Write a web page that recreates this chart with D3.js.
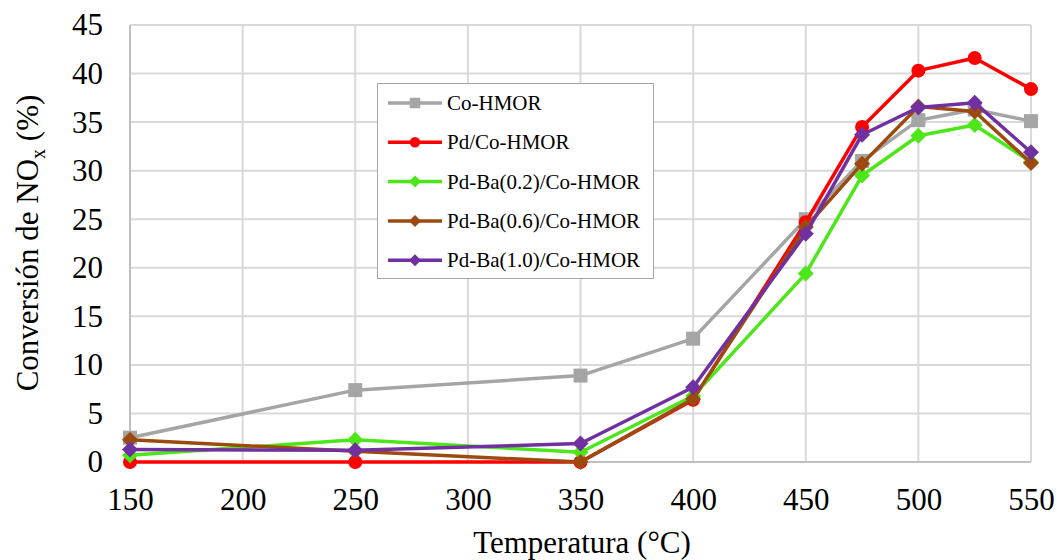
<!DOCTYPE html>
<html><head><meta charset="utf-8">
<script src="https://cdn.jsdelivr.net/npm/d3@7"></script>
</head><body style="margin:0">
<svg id="c" width="1057" height="560" font-family="Liberation Serif"></svg>
<script>
const temps = [150, 250, 350, 400, 450, 475, 500, 525, 550];
const coHMOR   = [2.5, 7.4, 8.9, 12.7, 25.0, 31.0, 35.2, 36.3, 35.1];
const pdCo     = [0.0, 0.0, 0.0, 6.4, 24.7, 34.5, 40.3, 41.6, 38.4];
const pdBa02   = [0.7, 2.3, 1.0, 6.8, 19.4, 29.5, 33.6, 34.7, 30.9];
const pdBa06   = [2.3, 1.1, 0.0, 6.5, 24.2, 30.7, 36.6, 36.1, 30.8];
const pdBa10   = [1.3, 1.2, 1.9, 7.7, 23.5, 33.7, 36.5, 37.0, 31.9];
const seriesNames = ["Co-HMOR", "Pd/Co-HMOR", "Pd-Ba(0.2)/Co-HMOR", "Pd-Ba(0.6)/Co-HMOR", "Pd-Ba(1.0)/Co-HMOR"];
const xTicks = [150, 200, 250, 300, 350, 400, 450, 500, 550];
const yTicks = [0, 5, 10, 15, 20, 25, 30, 35, 40, 45];

const colors = ["#A5A5A5", "#FF0000", "#4DE61A", "#9C4A10", "#7030A0"];
const shapes = ["square", "circle", "diamond", "diamond", "diamond"];
const allValues = [coHMOR, pdCo, pdBa02, pdBa06, pdBa10];

const svg = d3.select("#c");
const x = d3.scaleLinear().domain([150, 550]).range([130, 1031]);
const y = d3.scaleLinear().domain([0, 45]).range([462, 25]);
const FAM = "Liberation Serif";

// gridlines
const g = svg.append("g");
g.selectAll(".hg").data(yTicks.filter(d => d > 0)).enter().append("line")
  .attr("x1", x(150)).attr("x2", x(550)).attr("y1", d => y(d)).attr("y2", d => y(d))
  .attr("stroke", "#D9D9D9").attr("stroke-width", 2);
g.selectAll(".vg").data(xTicks.filter(d => d > 150)).enter().append("line")
  .attr("y1", y(0)).attr("y2", y(45)).attr("x1", d => x(d)).attr("x2", d => x(d))
  .attr("stroke", "#D9D9D9").attr("stroke-width", 2);
// axes
svg.append("line").attr("x1", x(150)).attr("x2", x(550)).attr("y1", y(0)).attr("y2", y(0))
  .attr("stroke", "#BFBFBF").attr("stroke-width", 2);
svg.append("line").attr("x1", x(150)).attr("x2", x(150)).attr("y1", y(0)).attr("y2", y(45))
  .attr("stroke", "#BFBFBF").attr("stroke-width", 2);

// tick labels via d3 axes
const xAxis = svg.append("g").attr("transform", `translate(0,${y(0)})`)
  .call(d3.axisBottom(x).tickValues(xTicks).tickSize(0).tickPadding(26).tickFormat(d3.format("d")));
xAxis.select(".domain").remove();
xAxis.attr("font-family", FAM).attr("font-size", 31);
xAxis.selectAll("text").style("font-family", FAM).attr("font-size", 31).attr("fill", "#000");
const yAxis = svg.append("g").attr("transform", `translate(${x(150)},0)`)
  .call(d3.axisLeft(y).tickValues(yTicks).tickSize(0).tickPadding(27).tickFormat(d3.format("d")));
yAxis.select(".domain").remove();
yAxis.attr("font-family", FAM).attr("font-size", 31);
yAxis.selectAll("text").style("font-family", FAM).attr("font-size", 31).attr("fill", "#000");

// axis titles
svg.append("text").attr("x", 582).attr("y", 553).attr("text-anchor", "middle")
  .style("font-family", FAM).attr("font-size", 31).text("Temperatura (°C)");
const yt = svg.append("text").attr("transform", "translate(38,243) rotate(-90)").attr("text-anchor", "middle")
  .style("font-family", FAM).attr("font-size", 31);
yt.append("tspan").text("Conversión de NO");
yt.append("tspan").attr("font-size", 20).attr("dy", 7).text("x");
yt.append("tspan").attr("dy", -7).text(" (%)");

function marker(sel, shape, color, cx, cy, scale) {
  const s = scale || 1;
  if (shape === "square") {
    sel.append("rect").attr("x", cx - 7 * s).attr("y", cy - 7 * s).attr("width", 14 * s).attr("height", 14 * s).attr("fill", color);
  } else if (shape === "circle") {
    sel.append("circle").attr("cx", cx).attr("cy", cy).attr("r", 7 * s).attr("fill", color);
  } else {
    const r = 8 * s;
    sel.append("path").attr("d", `M${cx},${cy - r}L${cx + r},${cy}L${cx},${cy + r}L${cx - r},${cy}Z`).attr("fill", color);
  }
}

const line = d3.line().x(d => x(d[0])).y(d => y(d[1]));
allValues.forEach((vals, i) => {
  const pts = temps.map((t, j) => [t, vals[j]]);
  const sg = svg.append("g");
  sg.append("path").attr("d", line(pts)).attr("fill", "none").attr("stroke", colors[i])
    .attr("stroke-width", 3.5).attr("stroke-linejoin", "round");
  pts.forEach(p => marker(sg, shapes[i], colors[i], x(p[0]), y(p[1])));
});

// legend
const lg = svg.append("g");
lg.append("rect").attr("x", 377.5).attr("y", 83.5).attr("width", 276).attr("height", 195)
  .attr("fill", "#fff").attr("stroke", "#A6A6A6").attr("stroke-width", 1);
seriesNames.forEach((name, i) => {
  const ly = 103 + i * 39.3;
  lg.append("line").attr("x1", 388).attr("x2", 442).attr("y1", ly).attr("y2", ly)
    .attr("stroke", colors[i]).attr("stroke-width", 3.5);
  marker(lg, shapes[i], colors[i], 415, ly, 0.75);
  lg.append("text").attr("x", 447).attr("y", ly + 7).style("font-family", FAM).attr("font-size", 21).text(name);
});
</script>
</body></html>
